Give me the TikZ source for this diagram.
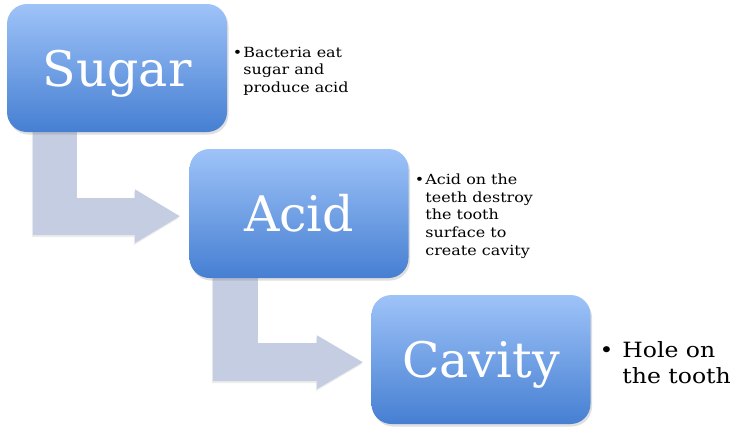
\documentclass[tikz,border=0pt]{standalone}
\usepackage{fontspec}
\setmainfont{DejaVu Serif}
\newfontfamily\notefont[FakeStretch=1.14]{DejaVu Serif}
\newfontfamily\holefont[FakeStretch=1.12]{DejaVu Serif}
\usetikzlibrary{shadows,calc,backgrounds}
\definecolor{boxtop}{RGB}{158,195,248}
\definecolor{boxbot}{RGB}{70,127,210}
\definecolor{arrowfill}{RGB}{196,205,225}
\begin{document}
\begin{tikzpicture}[x=1pt,y=-1pt,
  stagebox/.style={rectangle, rounded corners=20pt, minimum width=219pt, minimum height=129pt,
    inner sep=0pt, top color=boxtop, bottom color=boxbot, draw=none, text=white,
    font=\fontsize{49}{55}\selectfont, text height=36pt, text depth=0pt,
    drop shadow={shadow xshift=1.5pt, shadow yshift=-2.5pt, opacity=0.25}},
  bendarrow/.style={fill=arrowfill, drop shadow={shadow xshift=-1pt, shadow yshift=-2pt, opacity=0.15}},
  note/.style={anchor=north west, inner sep=0pt, align=left, text=black,
    font=\notefont\fontsize{14}{17.8}\selectfont},
  bignote/.style={anchor=north west, inner sep=0pt, align=left, text=black,
    font=\holefont\fontsize{21}{26}\selectfont}]
\useasboundingbox (0,0) rectangle (735,434);
\node[stagebox, minimum width=220pt, minimum height=128pt] (sugar) at (117,68) {Sugar};
\node[stagebox] (acid) at (299,213.5) {Acid};
\node[stagebox] (cavity) at (481,359.5) {Cavity};
\begin{scope}[on background layer]
\path (sugar.south west) ++(26,-12) coordinate (a1);
\path[bendarrow] (a1) -- ++(44,0) -- ++(0,78) -- ++(58,0) -- ++(0,-9) -- ++(45,27)
  -- ++(-45,27) -- ++(0,-8) -- ++(-102,0) -- cycle;
\path (acid.south west) ++(23.5,-13) coordinate (a2);
\path[bendarrow] (a2) -- ++(45,0) -- ++(0,78) -- ++(59,0) -- ++(0,-8) -- ++(46,27)
  -- ++(-46,27) -- ++(0,-8) -- ++(-104,0) -- cycle;
\end{scope}
\node[note] (n1) at ($(sugar.east)+(16,-21.5)$) {\llap{•\hspace{1pt}}Bacteria eat\\sugar and\\produce acid};
\node[note] (n2) at ($(acid.east)+(16.5,-40)$) {\llap{•\hspace{1pt}}Acid on the\\teeth destroy\\the tooth\\surface to\\create cavity};
\node[bignote] (n3) at ($(cavity.east)+(31.5,-18)$) {\llap{•\hspace{9pt}}Hole on\\the tooth};
\end{tikzpicture}
\end{document}
